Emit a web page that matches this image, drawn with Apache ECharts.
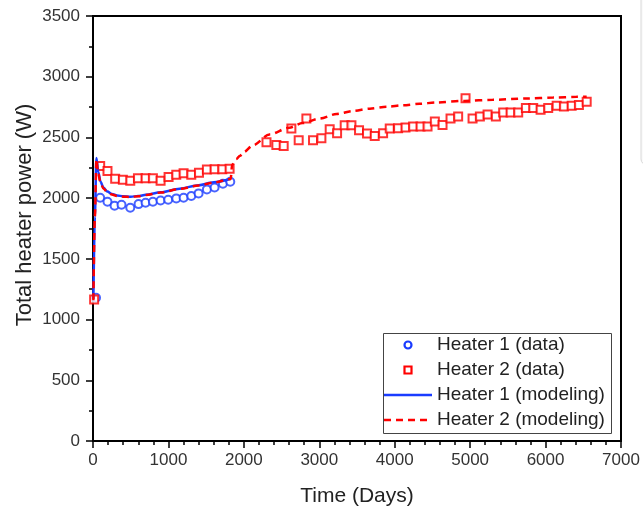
<!DOCTYPE html>
<html><head><meta charset="utf-8">
<script src="https://cdn.jsdelivr.net/npm/echarts@6/dist/echarts.min.js"></script>
<style>html,body{margin:0;padding:0;background:#fff}#c{width:643px;height:508px}</style>
</head><body><div id="c"></div>
<script>
// Heater 1 measured data [day, W]
const heater1Data = [[40,1180],[95,2003],[192,1970],[286,1937],[378,1945],[494,1921],[604,1951],[697,1962],[794,1970],[896,1981],[997,1987],[1104,1998],[1201,2003],[1303,2017],[1400,2039],[1510,2072],[1612,2088],[1722,2119],[1820,2135]];
// Heater 2 measured data [day, W]
const heater2Data = [[15,1165],[95,2264],[192,2223],[294,2160],[396,2152],[494,2144],[596,2163],[697,2163],[794,2163],[896,2144],[1002,2174],[1104,2193],[1201,2204],[1303,2193],[1405,2210],[1510,2235],[1612,2237],[1714,2237],[1811,2243],
 [2300,2460],[2431,2438],[2528,2430],[2630,2573],[2727,2477],[2829,2656],[2917,2477],[3028,2493],[3138,2567],[3236,2534],[3337,2600],[3426,2600],[3527,2559],[3633,2532],[3735,2512],[3846,2534],[3934,2573],[4045,2576],[4143,2581],[4244,2590],[4342,2590],[4435,2590],[4532,2631],[4634,2603],[4740,2656],[4841,2672],[4939,2823],[5032,2656],[5129,2672],[5231,2689],[5341,2672],[5438,2705],[5536,2705],[5637,2705],[5739,2743],[5836,2743],[5934,2727],[6035,2743],[6147,2760],[6243,2754],[6346,2760],[6442,2768],[6545,2793]];
// Heater 1 model [day, W]
const heater1Model = [[5,1170],[25,1850],[45,2330],[70,2215],[100,2135],[140,2085],[190,2055],[250,2035],[320,2022],[400,2015],[500,2012],[600,2017],[700,2027],[900,2048],[1150,2078],[1400,2107],[1600,2131],[1830,2160]];
// Heater 2 model [day, W]
const heater2Model = [[5,1160],[25,1850],[45,2320],[70,2200],[100,2125],[140,2078],[190,2050],[250,2030],[320,2018],[400,2012],[500,2010],[600,2015],[700,2025],[900,2046],[1150,2076],[1400,2105],[1600,2129],[1825,2158],[1845,2275],[1900,2322],[1950,2350],[2000,2380],[2120,2435],[2340,2525],[2600,2580],[2780,2618],[3000,2655],[3230,2693],[3450,2718],[3670,2737],[3900,2752],[4110,2765],[4330,2777],[4550,2788],[4930,2801],[5300,2810],[5750,2821],[6100,2828],[6410,2834],[6545,2836]];
const xTicks = {min:0, max:7000, interval:1000};
const yTicks = {min:0, max:3500, interval:500};
const seriesNames = ['Heater 1 (data)','Heater 2 (data)','Heater 1 (modeling)','Heater 2 (modeling)'];
const xTitle = 'Time (Days)';
const yTitle = 'Total heater power (W)';

const BLUE = '#1a3cff', RED = '#ff0000';
const font = 'Liberation Sans, Arial, sans-serif';
const colors = [BLUE, RED, BLUE, RED];

// legend built from graphic elements
const LX = 383, LY = 333, LW = 228, LH = 100, ROW0 = 345, PITCH = 25;
const legendEls = [{type:'rect', shape:{x:LX+0.5, y:LY+0.5, width:LW, height:LH}, style:{fill:'#fff', stroke:'#444', lineWidth:1}, z:10}];
seriesNames.forEach((nm, i) => {
  const cy = ROW0 + i*PITCH;
  if (i === 0) legendEls.push({type:'circle', shape:{cx:408, cy:cy, r:3.5}, style:{fill:'#fff', stroke:colors[i], lineWidth:2.2}, z:11});
  else if (i === 1) legendEls.push({type:'rect', shape:{x:404.5, y:cy-3.5, width:7, height:7}, style:{fill:'#fff', stroke:colors[i], lineWidth:2.2}, z:11});
  else legendEls.push({type:'line', shape:{x1:384, y1:cy, x2:432, y2:cy}, style:{stroke:colors[i], lineWidth:2.5, lineDash: i===3 ? [7,5] : null}, z:11});
  legendEls.push({type:'text', x:437, y:cy, style:{text:nm, font:'19px ' + font, fill:'#222', textVerticalAlign:'middle', textAlign:'left'}, z:11});
});

const chart = echarts.init(document.getElementById('c'), null, {renderer:'canvas'});
chart.setOption({
  animation:false,
  backgroundColor:'#fff',
  grid:{left:93, right:22, top:16, bottom:67, show:true, borderColor:'#000', borderWidth:2, backgroundColor:'transparent', outerBoundsMode:'none', containLabel:false},
  xAxis:{type:'value', min:xTicks.min, max:xTicks.max, interval:xTicks.interval,
    name:xTitle, nameLocation:'middle', nameGap:45,
    nameTextStyle:{fontFamily:font, fontSize:21, color:'#222'},
    axisLine:{show:true, onZero:false, lineStyle:{color:'#000', width:2}},
    axisTick:{show:true, inside:false, length:7, lineStyle:{color:'#000', width:1.5}},
    minorTick:{show:true, splitNumber:5, length:4, lineStyle:{color:'#000', width:1.5}},
    splitLine:{show:false},
    axisLabel:{margin:11, fontFamily:font, fontSize:17, color:'#333', formatter:v => String(v)}},
  yAxis:{type:'value', min:yTicks.min, max:yTicks.max, interval:yTicks.interval,
    axisLine:{show:true, onZero:false, lineStyle:{color:'#000', width:2}},
    axisTick:{show:true, inside:false, length:7, lineStyle:{color:'#000', width:1.5}},
    minorTick:{show:true, splitNumber:2, length:4, lineStyle:{color:'#000', width:1.5}},
    splitLine:{show:false},
    axisLabel:{margin:13, fontFamily:font, fontSize:17, color:'#333', formatter:v => String(v)}},
  graphic:[
    {type:'rect', shape:{x:641, y:-10, width:30, height:175, r:6}, style:{fill:'#fafafa', stroke:'#d8d8d8', lineWidth:1}, silent:true},
    {type:'text', x:25, y:215, rotation:Math.PI/2, style:{text:yTitle, font:'22px ' + font, fill:'#222', textAlign:'center', textVerticalAlign:'middle'}},
    ...legendEls
  ],
  series:[
    {name:seriesNames[0], type:'scatter', data:heater1Data, symbol:'emptyCircle', symbolSize:8,
      itemStyle:{color:BLUE, borderColor:BLUE, borderWidth:2.2}, z:3},
    {name:seriesNames[1], type:'scatter', data:heater2Data, symbol:'emptyRect', symbolSize:8,
      itemStyle:{color:RED, borderColor:RED, borderWidth:2.2}, z:3},
    {name:seriesNames[2], type:'line', data:heater1Model, showSymbol:false, symbol:'none', smooth:0.3, smoothMonotone:'x',
      lineStyle:{color:BLUE, width:2.5}, itemStyle:{color:BLUE}, z:4},
    {name:seriesNames[3], type:'line', data:heater2Model, showSymbol:false, symbol:'none', smooth:0.3, smoothMonotone:'x',
      lineStyle:{color:RED, width:2.5, type:[7,5]}, itemStyle:{color:RED}, z:5}
  ]
});
</script></body></html>
